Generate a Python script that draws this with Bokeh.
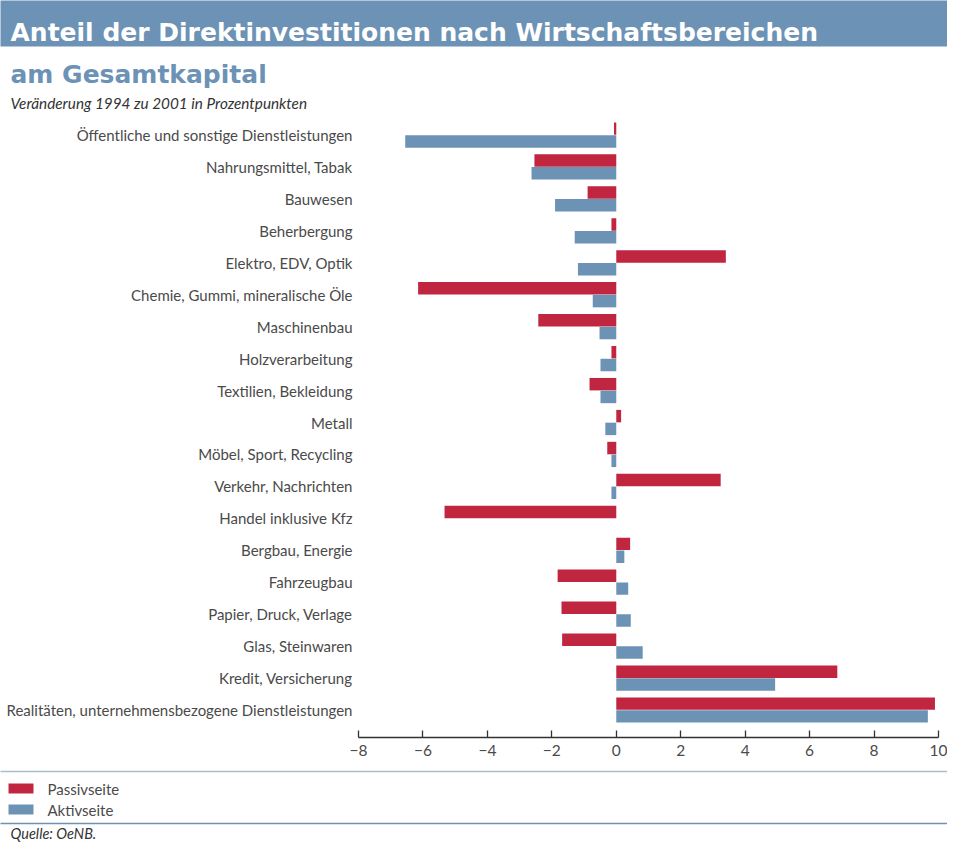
from bokeh.plotting import figure
from bokeh.models import Range1d, FixedTicker, ColumnDataSource
from bokeh.transform import dodge
from bokeh.core.properties import value
from bokeh.embed import file_html
from bokeh.resources import INLINE

# ---------------- data ----------------
title_text = "Anteil der Direktinvestitionen nach Wirtschaftsbereichen"
subtitle_text = "am Gesamtkapital"
note_text = "Veränderung 1994 zu 2001 in Prozentpunkten"
source_text = "Quelle: OeNB."

categories = [
    "Öffentliche und sonstige Dienstleistungen",
    "Nahrungsmittel, Tabak",
    "Bauwesen",
    "Beherbergung",
    "Elektro, EDV, Optik",
    "Chemie, Gummi, mineralische Öle",
    "Maschinenbau",
    "Holzverarbeitung",
    "Textilien, Bekleidung",
    "Metall",
    "Möbel, Sport, Recycling",
    "Verkehr, Nachrichten",
    "Handel inklusive Kfz",
    "Bergbau, Energie",
    "Fahrzeugbau",
    "Papier, Druck, Verlage",
    "Glas, Steinwaren",
    "Kredit, Versicherung",
    "Realitäten, unternehmensbezogene Dienstleistungen",
]
passiv = [-0.07, -2.54, -0.89, -0.15, 3.40, -6.15, -2.42, -0.15, -0.83, 0.15,
          -0.28, 3.24, -5.33, 0.43, -1.82, -1.70, -1.68, 6.86, 9.89]
aktiv = [-6.55, -2.63, -1.90, -1.29, -1.19, -0.73, -0.52, -0.49, -0.49, -0.34,
         -0.15, -0.15, 0.00, 0.25, 0.37, 0.45, 0.82, 4.93, 9.67]
series_names = ["Passivseite", "Aktivseite"]
series_colors = ["#c02640", "#6c92b5"]
x_ticks = [-8, -6, -4, -2, 0, 2, 4, 6, 8, 10]
x_tick_labels = ["\u22128", "\u22126", "\u22124", "\u22122", "0", "2", "4", "6", "8", "10"]

# ---------------- style / layout ----------------
W, H = 947, 842
BLUE = "#6c92b5"
RED = "#c02640"
TXT = "#4a4a4a"
FONT = "Lato"

F_LEFT, F_RIGHT = 358, 938
F_TOP, F_BOT = 115, 737

n = len(categories)
pos = list(range(n))
src = ColumnDataSource(dict(pos=pos, cat=categories, passiv=passiv, aktiv=aktiv))

p = figure(width=W, height=H, x_range=Range1d(-8, 10),
           y_range=Range1d(n - 1 + 0.861, -0.611),
           min_border_left=F_LEFT, min_border_right=W - F_RIGHT,
           min_border_top=F_TOP, min_border_bottom=H - F_BOT,
           output_backend="svg", toolbar_location=None)
p.grid.visible = False
p.outline_line_color = None

# pixel-identity ranges for the decorations around the chart
p.extra_x_ranges = {"px": Range1d(F_LEFT, F_RIGHT)}
p.extra_y_ranges = {"py": Range1d(F_BOT, F_TOP)}
deco = dict(x_range_name="px", y_range_name="py", level="overlay")

p.hbar(y=dodge("pos", -0.2), left=0, right="passiv", height=0.39,
       fill_color=RED, line_color=None, source=src)
p.hbar(y=dodge("pos", 0.2), left=0, right="aktiv", height=0.39,
       fill_color=BLUE, line_color=None, source=src)

yax = p.yaxis[0]
yax.ticker = FixedTicker(ticks=pos)
yax.major_label_overrides = {i: c for i, c in zip(pos, categories)}
yax.axis_line_color = None
yax.major_tick_line_color = None
yax.major_tick_in = 0
yax.major_tick_out = 0
yax.minor_tick_line_color = None
yax.minor_tick_out = 0
yax.major_label_standoff = 6
yax.major_label_text_font = FONT
yax.major_label_text_font_size = "15px"
yax.major_label_text_color = TXT

xax = p.xaxis[0]
xax.ticker = FixedTicker(ticks=x_ticks)
xax.major_label_overrides = {t: l for t, l in zip(x_ticks, x_tick_labels)}
xax.axis_line_color = "#333333"
xax.axis_line_width = 1.3
xax.major_tick_line_color = "#333333"
xax.major_tick_line_width = 1.3
xax.major_tick_in = 7
xax.major_tick_out = 0
xax.minor_tick_line_color = None
xax.major_label_standoff = 7
xax.major_label_text_font = FONT
xax.major_label_text_font_size = "15.5px"
xax.major_label_text_color = TXT

# ---------------- header ----------------
p.quad(left=[0], right=[W], top=[0], bottom=[46], fill_color=BLUE, line_color=None, **deco)
p.text(x=[10], y=[32], text=[title_text], text_font=value("DejaVu Sans"),
       text_font_style="bold", text_font_size="25px", text_color="white",
       text_baseline="alphabetic", **deco)
p.text(x=[10], y=[74], text=[subtitle_text], text_font=value("DejaVu Sans"),
       text_font_style="bold", text_font_size="25px", text_color=BLUE,
       text_baseline="alphabetic", **deco)
p.text(x=[10], y=[102], text=[note_text], text_font=value(FONT),
       text_font_style="italic", text_font_size="15.3px", text_color="#333333",
       text_baseline="alphabetic", **deco)

# ---------------- footer: legend + source ----------------
p.segment(x0=[0], x1=[W], y0=[771], y1=[771], line_color="#a9bdd0", line_width=1.5, **deco)
leg_y = [788, 809]
p.quad(left=[8, 8], right=[33, 33], top=[y - 5 for y in leg_y], bottom=[y + 5 for y in leg_y],
       fill_color=series_colors, line_color=None, **deco)
p.text(x=[47, 47], y=leg_y, text=series_names, text_font=value(FONT),
       text_font_size="15px", text_color=TXT, text_baseline="middle", **deco)
p.segment(x0=[0], x1=[W], y0=[823], y1=[823], line_color=BLUE, line_width=1.3, **deco)
p.text(x=[10], y=[833], text=[source_text], text_font=value(FONT),
       text_font_style="italic", text_font_size="14.5px", text_color="#333333",
       text_baseline="middle", **deco)

open("out.html", "w").write(file_html(p, INLINE))
